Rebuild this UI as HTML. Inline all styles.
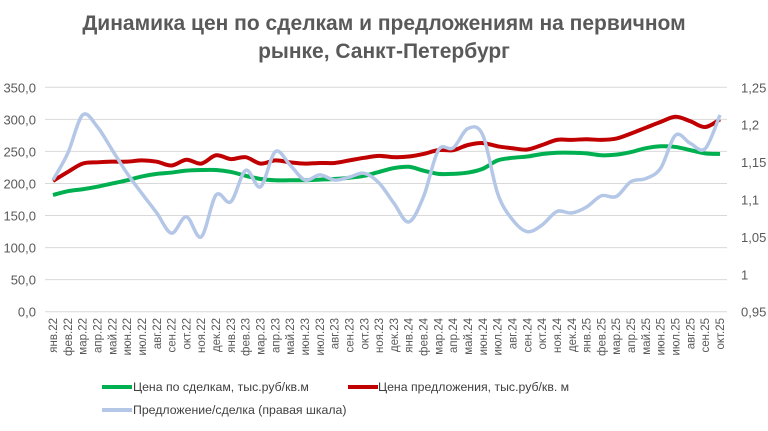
<!DOCTYPE html>
<html><head><meta charset="utf-8"><style>
body{margin:0;background:#fff;}
svg{display:block;font-family:"Liberation Sans","DejaVu Sans",sans-serif;}
</style></head><body>
<svg id="chart" width="768" height="431" viewBox="0 0 768 431">
<text x="384" y="30" text-anchor="middle" font-size="21" font-weight="bold" fill="#595959">Динамика цен по сделкам и предложениям на первичном</text>
<text x="384" y="58" text-anchor="middle" font-size="21" font-weight="bold" fill="#595959">рынке, Санкт-Петербург</text>
<g id="grid"></g><g id="yl"></g><g id="yr"></g><g id="xl"></g><g id="series"></g>
<g>
<line x1="102" y1="387" x2="132" y2="387" stroke="#00b050" stroke-width="4"/>
<text x="133" y="391" font-size="12.3" fill="#404040">Цена по сделкам, тыс.руб/кв.м</text>
<line x1="348" y1="387" x2="378" y2="387" stroke="#c00000" stroke-width="4"/>
<text x="378" y="391" font-size="12.3" fill="#404040">Цена предложения, тыс.руб/кв. м</text>
<line x1="102" y1="410" x2="132" y2="410" stroke="#b4c7e7" stroke-width="4"/>
<text x="133" y="414" font-size="12.3" fill="#404040">Предложение/сделка (правая шкала)</text>
</g>
</svg>
<script>
const categories=["янв.22","фев.22","мар.22","апр.22","май.22","июн.22","июл.22","авг.22","сен.22","окт.22","ноя.22","дек.22","янв.23","фев.23","мар.23","апр.23","май.23","июн.23","июл.23","авг.23","сен.23","окт.23","ноя.23","дек.23","янв.24","фев.24","мар.24","апр.24","май.24","июн.24","июл.24","авг.24","сен.24","окт.24","ноя.24","дек.24","янв.25","фев.25","мар.25","апр.25","май.25","июн.25","июл.25","авг.25","сен.25","окт.25"];
const dealPrice=[182,188,191,195,200,205,211,215,217,220,221,221,218,212,207,205,205,205,206,207,209,212,218,224,226,220,215,215,217,223,236,240,242,246,248,248,247,244,245,249,255,258,257,252,247,246];
const offerPrice=[204,218,231,233,234,234,236,234,228,237,231,244,238,241,231,236,233,231,232,232,236,240,243,241,242,246,252,252,260,263,258,255,253,260,268,268,269,268,270,278,287,296,304,297,288,300];
const ratio=[1.126,1.162,1.213,1.197,1.166,1.135,1.108,1.082,1.055,1.077,1.050,1.106,1.097,1.139,1.117,1.164,1.146,1.126,1.133,1.126,1.130,1.135,1.122,1.095,1.070,1.104,1.166,1.169,1.195,1.186,1.108,1.073,1.057,1.066,1.084,1.082,1.090,1.105,1.104,1.124,1.128,1.142,1.186,1.175,1.168,1.213];
const leftTicks=["0,0","50,0","100,0","150,0","200,0","250,0","300,0","350,0"];
const rightTicks=["0,95","1","1,05","1,1","1,15","1,2","1,25"];
const NS="http://www.w3.org/2000/svg";
const X0=53,X1=720,YT=87.3,YB=311.7;
const x=i=>X0+i*(X1-X0)/(categories.length-1);
const yL=v=>YB-(v/350)*(YB-YT);
const yR=v=>YB-((v-0.95)/0.3)*(YB-YT);
function mk(t,a,p){const e=document.createElementNS(NS,t);for(const k in a)e.setAttribute(k,a[k]);p.appendChild(e);return e;}
const grid=document.getElementById('grid'),yl=document.getElementById('yl'),yr=document.getElementById('yr'),xl=document.getElementById('xl'),ser=document.getElementById('series');
leftTicks.forEach((t,i)=>{const yy=yL(i*50);
 const g=mk('line',{x1:45,x2:727,y1:yy,y2:yy,stroke:'#d9d9d9','stroke-width':1},grid);
 
 
 const tx=mk('text',{x:36,y:yy+5,'text-anchor':'end','font-size':13,fill:'#595959'},yl);tx.textContent=t;
 
 
});
rightTicks.forEach((t,i)=>{const yy=yR(0.95+i*0.05);
 const tx=mk('text',{x:741,y:yy+5,'font-size':13,fill:'#595959'},yr);tx.textContent=t;
 
 
});
categories.forEach((c,i)=>{const xx=x(i);
 const tx=mk('text',{x:0,y:0,'text-anchor':'end','font-size':11.5,fill:'#595959',transform:`translate(${xx+4},318) rotate(-90)`},xl);tx.textContent=c;
 
 
});
function path(vals,fy){const p=vals.map((v,i)=>[x(i),fy(v)]);let d=`M${p[0][0]},${p[0][1]}`;
 for(let i=0;i<p.length-1;i++){const p0=p[i-1]||p[i],p1=p[i],p2=p[i+1],p3=p[i+2]||p2;
  d+=` C${p1[0]+(p2[0]-p0[0])/6},${p1[1]+(p2[1]-p0[1])/6} ${p2[0]-(p3[0]-p1[0])/6},${p2[1]-(p3[1]-p1[1])/6} ${p2[0]},${p2[1]}`;}
 return d;}
const s1=mk('path',{d:path(dealPrice,yL),fill:'none',stroke:'#00b050','stroke-width':4},ser);


const s2=mk('path',{d:path(offerPrice,yL),fill:'none',stroke:'#c00000','stroke-width':4},ser);


const s3=mk('path',{d:path(ratio,yR),fill:'none',stroke:'#b4c7e7','stroke-width':3.5},ser);


</script>
</body></html>
